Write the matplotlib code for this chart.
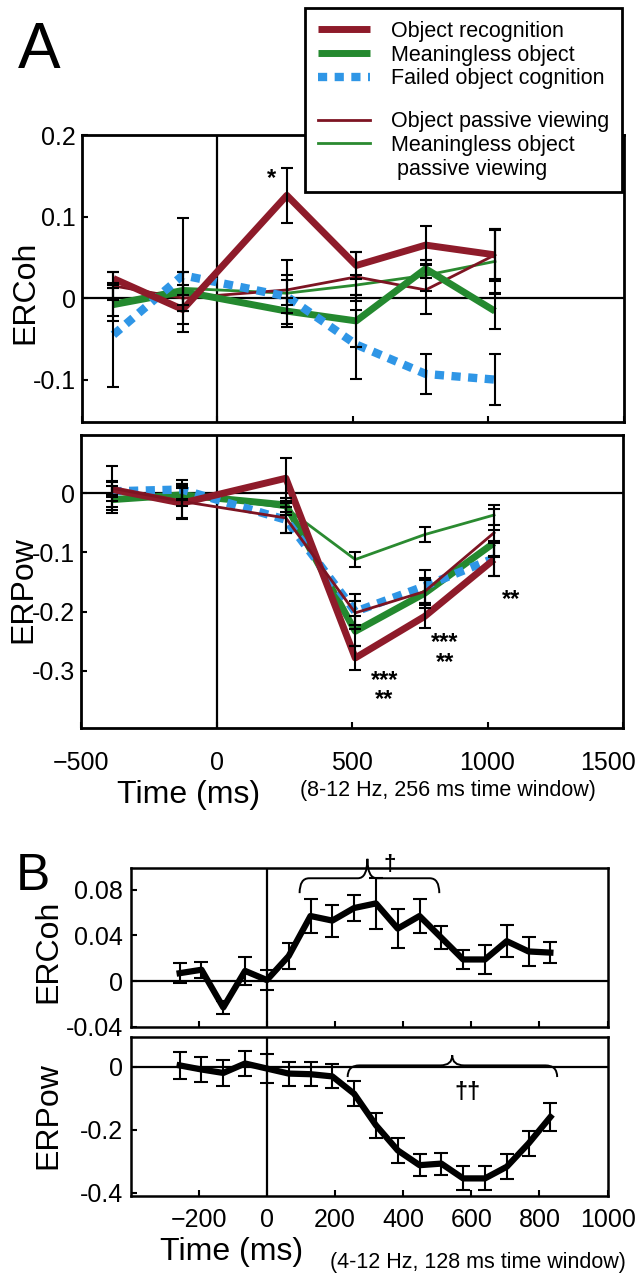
import matplotlib
matplotlib.use('Agg')
import matplotlib.pyplot as plt
from matplotlib.lines import Line2D
from matplotlib.path import Path
from matplotlib.patches import PathPatch
from matplotlib.transforms import ScaledTranslation

plt.rcParams['font.family'] = ['Liberation Sans', 'DejaVu Sans']

## Panel A data (8-12 Hz, 256 ms time window)
t_a = [-384, -128, 256, 512, 768, 1024]

# ERCoh
coh_rec = [0.024, -0.014, 0.126, 0.040, 0.065, 0.053]
coh_rec_err = [0.008, 0.018, 0.034, 0.017, 0.023, 0.030]
coh_mng = [-0.008, 0.008, -0.016, -0.028, 0.036, -0.016]
coh_mng_err = [0.020, 0.024, 0.016, 0.032, 0.011, 0.022]
coh_fail = [-0.045, 0.028, 0.002, -0.057, -0.093, -0.100]
coh_fail_err = [0.064, 0.070, 0.020, 0.042, 0.025, 0.031]
coh_rec_pv = [0.015, 0.000, 0.010, 0.026, 0.010, 0.053]
coh_rec_pv_err = [0.017, 0.016, 0.018, 0.030, 0.030, 0.032]
coh_mng_pv = [-0.005, 0.012, 0.006, 0.016, 0.028, 0.045]
coh_mng_pv_err = [0.017, 0.020, 0.041, 0.012, 0.019, 0.040]

# ERPow
pow_rec = [0.006, -0.017, 0.025, -0.278, -0.208, -0.112]
pow_rec_err = [0.012, 0.025, 0.034, 0.020, 0.020, 0.028]
pow_mng = [-0.011, -0.003, -0.020, -0.233, -0.169, -0.084]
pow_mng_err = [0.023, 0.018, 0.012, 0.025, 0.025, 0.022]
pow_fail = [0.003, 0.006, -0.045, -0.200, -0.157, -0.110]
pow_fail_err = [0.017, 0.016, 0.022, 0.030, 0.028, 0.030]
pow_rec_pv = [0.008, -0.014, -0.042, -0.202, -0.166, -0.067]
pow_rec_pv_err = [0.037, 0.030, 0.025, 0.020, 0.020, 0.040]
pow_mng_pv = [-0.014, 0.000, -0.025, -0.112, -0.070, -0.037]
pow_mng_pv_err = [0.010, 0.012, 0.012, 0.012, 0.012, 0.017]

## Panel B data (4-12 Hz, 128 ms time window)
t_b = [-256, -192, -128, -64, 0, 64, 128, 192, 256, 320, 384, 448, 512, 576, 640, 704, 768, 832]
coh_b = [0.007, 0.010, -0.023, 0.009, 0.001, 0.022, 0.057, 0.053, 0.064, 0.068,
         0.046, 0.057, 0.038, 0.019, 0.019, 0.035, 0.026, 0.025]
coh_b_err = [0.009, 0.007, 0.006, 0.012, 0.009, 0.011, 0.015, 0.014, 0.011, 0.022,
             0.017, 0.015, 0.010, 0.008, 0.013, 0.014, 0.013, 0.009]
pow_b = [0.005, -0.008, -0.019, 0.011, -0.005, -0.021, -0.023, -0.030, -0.085, -0.185,
         -0.265, -0.312, -0.307, -0.354, -0.354, -0.317, -0.243, -0.159]
pow_b_err = [0.043, 0.040, 0.040, 0.040, 0.045, 0.038, 0.038, 0.038, 0.040, 0.040,
             0.040, 0.035, 0.035, 0.038, 0.038, 0.040, 0.040, 0.043]

labels_a = ['Object recognition', 'Meaningless object', 'Failed object cognition',
            'Object passive viewing', 'Meaningless object', ' passive viewing']

# styles
RED = '#8e1b2a'
GREEN = '#24892f'
BLUE = '#2f96e6'
THIN_RED = '#7d1422'
THIN_GREEN = '#2a8a30'
styles = {
    'rec': dict(color=RED, lw=5, solid_capstyle='butt'),
    'mng': dict(color=GREEN, lw=5, solid_capstyle='butt'),
    'fail': dict(color=BLUE, lw=6, linestyle=(0, (1.1, 0.9))),
    'rec_pv': dict(color=THIN_RED, lw=2),
    'mng_pv': dict(color=THIN_GREEN, lw=2),
}
err_kw = dict(fmt='none', ecolor='black', elinewidth=1.5, capsize=4.5, capthick=1.5, zorder=6)

fig = plt.figure(figsize=(6.44, 12.8), dpi=100)
fig.patch.set_facecolor('white')


def style_axes(ax, xlim, ylim, yticks, lw=2):
    ax.set_xlim(*xlim)
    ax.set_ylim(*ylim)
    ax.set_yticks(yticks)
    ax.set_yticklabels([f'{v:g}' for v in yticks])
    for s in ax.spines.values():
        s.set_linewidth(lw)
    ax.axhline(0, color='black', lw=1.6, zorder=2)
    ax.axvline(0, color='black', lw=1.6, zorder=2)
    ax.tick_params(direction='in', length=4, width=1.5, labelsize=18)


def brace(ax, x0, x1, xm, y, y_end, y_tip, dx):
    verts = [(x0, y_end), (x0, y), (x0 + dx, y), (xm - dx, y), (xm, y), (xm, y_tip),
             (xm, y), (xm + dx, y), (x1 - dx, y), (x1, y), (x1, y_end)]
    codes = [Path.MOVETO, Path.CURVE3, Path.CURVE3, Path.LINETO, Path.CURVE3, Path.CURVE3,
             Path.CURVE3, Path.CURVE3, Path.LINETO, Path.CURVE3, Path.CURVE3]
    ax.add_patch(PathPatch(Path(verts, codes), fill=False, lw=1.4, color='black',
                           clip_on=False, zorder=7))


def stars(ax, x, y, s):
    ax.annotate(s, (x, y), xytext=(0, -6), textcoords='offset points', ha='center',
                va='center', fontsize=17, fontweight='bold', linespacing=0.8,
                annotation_clip=False)


# ---------- Panel A, ERCoh ----------
ax1 = fig.add_axes([0.1273, 0.6703, 0.8416, 0.2242])
style_axes(ax1, (-500, 1500), (-0.152, 0.2), [-0.1, 0, 0.1, 0.2])
ax1.set_xticks([-500, 0, 500, 1000, 1500])
ax1.tick_params(axis='x', labelbottom=False)
ax1.tick_params(axis='y', pad=4.5)
ax1.plot(t_a, coh_mng_pv, **styles['mng_pv'], zorder=3)
ax1.plot(t_a, coh_rec_pv, **styles['rec_pv'], zorder=3)
ax1.plot(t_a, coh_mng, **styles['mng'], zorder=4)
ax1.plot(t_a, coh_fail, **styles['fail'], zorder=4)
ax1.plot(t_a, coh_rec, **styles['rec'], zorder=5)
for y, e in [(coh_rec, coh_rec_err), (coh_mng, coh_mng_err), (coh_fail, coh_fail_err),
             (coh_rec_pv, coh_rec_pv_err), (coh_mng_pv, coh_mng_pv_err)]:
    ax1.errorbar(t_a, y, yerr=e, **err_kw)
stars(ax1, 200, 0.157, '*')
ax1.set_ylabel('ERCoh', fontsize=23)
ax1.yaxis.set_label_coords(-0.105, 0.453)
ax1.yaxis.label.set_va('center')

# ---------- Panel A, ERPow ----------
ax2 = fig.add_axes([0.1258, 0.4313, 0.8416, 0.2289])
style_axes(ax2, (-500, 1500), (-0.396, 0.098), [-0.3, -0.2, -0.1, 0])
ax2.set_xticks([-500, 0, 500, 1000, 1500])
ax2.tick_params(axis='x', pad=16.5)
ax2.tick_params(axis='y', pad=4.5)
# the last tick label sits a little inside the frame, as in the original figure
last = ax2.get_xticklabels()[-1]
last.set_transform(last.get_transform() + ScaledTranslation(-0.15, 0, fig.dpi_scale_trans))
ax2.plot(t_a, pow_mng_pv, **styles['mng_pv'], zorder=3)
ax2.plot(t_a, pow_mng, **styles['mng'], zorder=4)
ax2.plot(t_a, pow_fail, **styles['fail'], zorder=4)
ax2.plot(t_a, pow_rec, **styles['rec'], zorder=5)
ax2.plot(t_a, pow_rec_pv, **styles['rec_pv'], zorder=5)
for y, e in [(pow_rec, pow_rec_err), (pow_mng, pow_mng_err), (pow_fail, pow_fail_err),
             (pow_rec_pv, pow_rec_pv_err), (pow_mng_pv, pow_mng_pv_err)]:
    ax2.errorbar(t_a, y, yerr=e, **err_kw)
stars(ax2, 620, -0.318, '***\n**')
stars(ax2, 843, -0.255, '***\n**')
stars(ax2, 1086, -0.165, '**')
ax2.set_ylabel('ERPow', fontsize=23)
ax2.yaxis.set_label_coords(-0.107, 0.471)
ax2.yaxis.label.set_va('center')
ax2.set_xlabel('Time (ms)', fontsize=23)
ax2.xaxis.set_label_coords(0.198, -0.228)
ax2.xaxis.label.set_va('center')
ax2.text(0.404, -0.214, '(8-12 Hz, 256 ms time window)', transform=ax2.transAxes,
         ha='left', va='center', fontsize=15.5)

# legend for panel A
handles = [Line2D([], [], **styles['rec']), Line2D([], [], **styles['mng']),
           Line2D([], [], **styles['fail']), Line2D([], [], lw=0),
           Line2D([], [], **styles['rec_pv']), Line2D([], [], **styles['mng_pv']),
           Line2D([], [], lw=0)]
leg_labels = labels_a[:3] + [' '] + labels_a[3:]
leg = fig.legend(handles, leg_labels, loc='upper left', bbox_to_anchor=(0.4736, 0.9937),
                 fontsize=15.5, frameon=True, fancybox=False, framealpha=1,
                 edgecolor='black', handlelength=2.4, handletextpad=1.0,
                 borderpad=0.6, borderaxespad=0, labelspacing=0.12)
leg.get_frame().set_linewidth(2)
leg.get_texts()[3].set_fontsize(6)

fig.text(18 / 644, 1 - 68 / 1280, 'A', fontsize=46, ha='left', va='baseline')

# ---------- Panel B, ERCoh ----------
ax3 = fig.add_axes([0.2028, 0.1977, 0.7407, 0.1242])
style_axes(ax3, (-400, 1000), (-0.04, 0.099), [-0.04, 0, 0.04, 0.08], lw=1.8)
ax3.set_xticks([-200, 0, 200, 400, 600, 800, 1000])
ax3.tick_params(axis='x', labelbottom=False)
ax3.tick_params(axis='y', pad=5.5)
ax3.plot(t_b, coh_b, color='black', lw=4.5, zorder=4)
ax3.errorbar(t_b, coh_b, yerr=coh_b_err, **dict(err_kw, capsize=5))
brace(ax3, 96, 506, 295, 0.090, 0.077, 0.107, 28)
ax3.text(359, 0.102, '\u2020', ha='center', va='center', fontsize=16, fontweight='bold',
         clip_on=False)
ax3.set_ylabel('ERCoh', fontsize=23)
ax3.yaxis.set_label_coords(-0.173, 0.478)
ax3.yaxis.label.set_va('center')

# ---------- Panel B, ERPow ----------
ax4 = fig.add_axes([0.2028, 0.0656, 0.7407, 0.1242])
style_axes(ax4, (-400, 1000), (-0.41, 0.095), [-0.4, -0.2, 0], lw=1.8)
ax4.set_xticks([-200, 0, 200, 400, 600, 800, 1000])
ax4.tick_params(axis='x', pad=8.6)
ax4.tick_params(axis='y', pad=5.5)
ax4.plot(t_b, pow_b, color='black', lw=4.5, zorder=4)
ax4.errorbar(t_b, pow_b, yerr=pow_b_err, **dict(err_kw, capsize=5))
brace(ax4, 237, 852, 544, 0.005, -0.032, 0.037, 35)
ax4.text(590, -0.08, '\u2020\u2020', ha='center', va='center', fontsize=17, fontweight='bold')
ax4.set_ylabel('ERPow', fontsize=23)
ax4.yaxis.set_label_coords(-0.173, 0.509)
ax4.yaxis.label.set_va('center')
ax4.set_xlabel('Time (ms)', fontsize=23)
ax4.xaxis.set_label_coords(0.2126, -0.352)
ax4.xaxis.label.set_va('center')
ax4.text(0.419, -0.415, '(4-12 Hz, 128 ms time window)', transform=ax4.transAxes,
         ha='left', va='center', fontsize=15.5)

fig.text(16 / 644, 1 - 890 / 1280, 'B', fontsize=37, ha='left', va='baseline')

fig.savefig('out.png', dpi=100, facecolor='white')
